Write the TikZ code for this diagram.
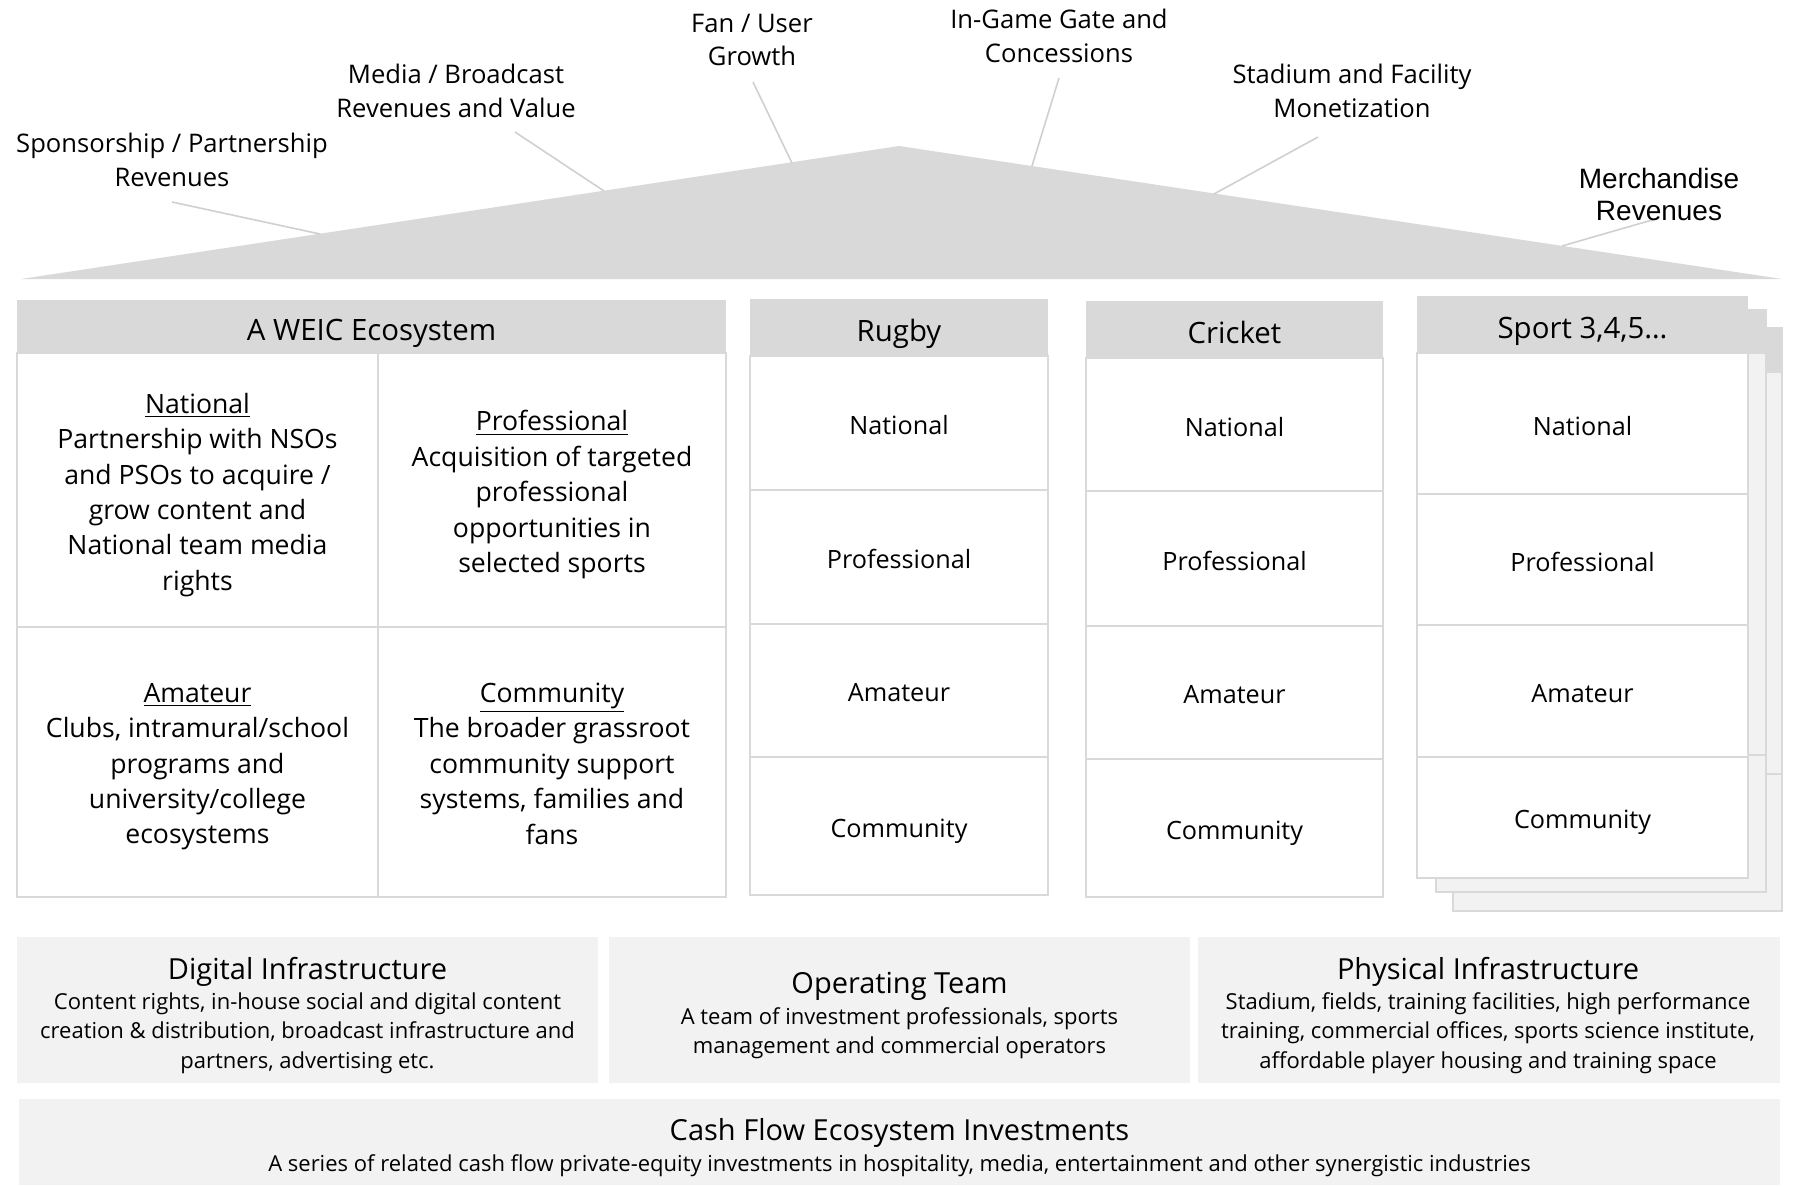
\documentclass[tikz,border=0pt]{standalone}
\usepackage{fontspec}
\setmainfont{Open Sans}
\newfontfamily\arialfont{Liberation Sans}
\usetikzlibrary{fit}
\definecolor{hdrgray}{HTML}{D9D9D9}
\definecolor{panelgray}{HTML}{F2F2F2}
\definecolor{leadgray}{HTML}{D0D0D0}
\definecolor{edgegray}{HTML}{D9D9D9}

\begin{document}
\begin{tikzpicture}[x=0.5pt,y=-0.5pt,
  toplabel/.style={align=center, inner sep=0pt, font=\fontsize{12.8}{16.75}\selectfont},
  leader/.style={draw=leadgray, line width=0.8pt},
  hdr/.style={fill=hdrgray, inner sep=0pt, outer sep=0pt},
  hdrtext/.style={inner sep=0pt, text depth=0pt, yshift=-1.6pt, font=\fontsize{14.7}{17}\selectfont},
  wcell/.style={fill=white, draw=edgegray, line width=0.8pt, inner sep=0pt, outer sep=0pt},
  wtext/.style={inner sep=0pt, text depth=0pt, yshift=-0.8pt, align=center, font=\fontsize{13.3}{17.7}\selectfont},
  scell/.style={fill=white, draw=edgegray, line width=1.1pt, inner sep=0pt, outer sep=0pt},
  stext/.style={inner sep=0pt, text depth=0pt, yshift=-1.1pt, font=\fontsize{12.6}{15}\selectfont},
  sheet/.style={draw=edgegray, line width=1.1pt},
  panel/.style={fill=panelgray, inner sep=0pt, outer sep=0pt},
  btitle/.style={inner sep=0pt, font=\fontsize{14.5}{17}\selectfont},
  bsub/.style={inner sep=0pt, align=center, font=\fontsize{11.0}{14.7}\selectfont}
]
\useasboundingbox (0,0) rectangle (1793,1185);
\fill[white] (0,0) rectangle (1793,1185);

% ---------- roof ----------
\fill[hdrgray] (21,279) -- (899,146) -- (1782,279) -- cycle;

% leader line end points
\coordinate (spA) at (172,202);  \coordinate (spB) at (320,234);
\coordinate (mdA) at (515,132);  \coordinate (mdB) at (604,191);
\coordinate (fnA) at (753,82);   \coordinate (fnB) at (792,163);
\coordinate (igA) at (1059,78);  \coordinate (igB) at (1032,166);
\coordinate (stA) at (1318,137); \coordinate (stB) at (1214,194);
\coordinate (mcA) at (1659,218); \coordinate (mcB) at (1562,246);

\draw[leader] (spA) -- (spB);
\draw[leader] (mdA) -- (mdB);
\draw[leader] (fnA) -- (fnB);
\draw[leader] (igA) -- (igB);
\draw[leader] (stA) -- (stB);
\draw[leader] (mcA) -- (mcB);

% revenue labels
\node[toplabel] (lblSpons) at (172,160) {Sponsorship / Partnership\\Revenues};
\node[toplabel] (lblMedia) at (456,91) {Media / Broadcast\\Revenues and Value};
\node[toplabel] (lblFan) at (752,40) {Fan / User\\Growth};
\node[toplabel] (lblGate) at (1059,36) {In-Game Gate and\\Concessions};
\node[toplabel] (lblStad) at (1352,91) {Stadium and Facility\\Monetization};
\node[toplabel, font=\arialfont\fontsize{14}{16}\selectfont] (lblMerch) at (1659,194) {Merchandise\\Revenues};

% ---------- WEIC ecosystem ----------
\node[hdr, fit={(17,300)(726,353)}] (weicH) {};
\node[wcell, fit={(17,353)(378,627)}] (weicNat) {};
\node[wcell, fit={(378,353)(726,627)}] (weicPro) {};
\node[wcell, fit={(17,627)(378,897)}] (weicAma) {};
\node[wcell, fit={(378,627)(726,897)}] (weicCom) {};
\node[hdrtext] (weicHt) at (weicH) {A WEIC Ecosystem};
\node[wtext] (weicNatT) at (weicNat)
  {\underline{National}\\Partnership with NSOs\\and PSOs to acquire /\\grow content and\\National team media\\rights};
\node[wtext] (weicProT) at (weicPro)
  {\underline{Professional}\\Acquisition of targeted\\professional\\opportunities in\\selected sports};
\node[wtext] (weicAmaT) at (weicAma)
  {\underline{Amateur}\\Clubs, intramural/school\\programs and\\university/college\\ecosystems};
\node[wtext] (weicComT) at (weicCom)
  {\underline{Community}\\The broader grassroot\\community support\\systems, families and\\fans};

% ---------- Rugby ----------
\node[hdr, fit={(750,299)(1048,356)}] (rugH) {};
\node[scell, fit={(750,356)(1048,490)}] (rugN) {};
\node[scell, fit={(750,490)(1048,624)}] (rugP) {};
\node[scell, fit={(750,624)(1048,757)}] (rugA) {};
\node[scell, fit={(750,757)(1048,895)}] (rugC) {};
\node[hdrtext] (rugHt) at (rugH) {Rugby};
\node[stext] (rugNt) at (rugN) {National};
\node[stext] (rugPt) at (rugP) {Professional};
\node[stext] (rugAt) at (rugA) {Amateur};
\node[stext] (rugCt) at (rugC) {Community};

% ---------- Cricket ----------
\node[hdr, fit={(1086,301)(1383,358)}] (crkH) {};
\node[scell, fit={(1086,358)(1383,491)}] (crkN) {};
\node[scell, fit={(1086,491)(1383,626)}] (crkP) {};
\node[scell, fit={(1086,626)(1383,759)}] (crkA) {};
\node[scell, fit={(1086,759)(1383,897)}] (crkC) {};
\node[hdrtext] (crkHt) at (crkH) {Cricket};
\node[stext] (crkNt) at (crkN) {National};
\node[stext] (crkPt) at (crkP) {Professional};
\node[stext] (crkAt) at (crkA) {Amateur};
\node[stext] (crkCt) at (crkC) {Community};

% ---------- further sports: stacked sheets ----------
\fill[panelgray] (1453,328) rectangle (1782,911);
\fill[hdrgray] (1453,328) rectangle (1782,373);
\draw[sheet] (1453,774) -- (1782,774);
\draw[sheet] (1453,328) rectangle (1782,911);

\fill[panelgray] (1436,310) rectangle (1766,892);
\fill[hdrgray] (1436,310) rectangle (1766,354);
\draw[sheet] (1436,755) -- (1766,755);
\draw[sheet] (1436,310) rectangle (1766,892);

\node[hdr, fit={(1417,296)(1748,353)}] (spH) {};
\node[scell, fit={(1417,353)(1748,494)}] (spN) {};
\node[scell, fit={(1417,494)(1748,625)}] (spP) {};
\node[scell, fit={(1417,625)(1748,757)}] (spA) {};
\node[scell, fit={(1417,757)(1748,878)}] (spC) {};
\node[hdrtext] (spHt) at (spH) {Sport 3,4,5\ldots};
\node[stext] (spNt) at (spN) {National};
\node[stext] (spPt) at (spP) {Professional};
\node[stext] (spAt) at (spA) {Amateur};
\node[stext] (spCt) at (spC) {Community};

% ---------- foundations ----------
\node[panel, fit={(17,937)(598,1083)}] (digBox) {};
\node[btitle] (digT) at (307.5,972) {Digital Infrastructure};
\node[bsub] (digS) at (307.5,1033)
  {Content rights, in-house social and digital content\\creation \& distribution, broadcast infrastructure and\\partners, advertising etc.};

\node[panel, fit={(609,937)(1190,1083)}] (opsBox) {};
\node[btitle] (opsT) at (899.5,986) {Operating Team};
\node[bsub] (opsS) at (899.5,1033)
  {A team of investment professionals, sports\\management and commercial operators};

\node[panel, fit={(1198,937)(1780,1083)}] (physBox) {};
\node[btitle] (physT) at (1488,972) {Physical Infrastructure};
\node[bsub] (physS) at (1488,1033)
  {Stadium, fields, training facilities, high performance\\training, commercial offices, sports science institute,\\affordable player housing and training space};

\node[panel, fit={(19,1099)(1780,1185)}] (cashBox) {};
\node[btitle] (cashT) at (899.5,1133) {Cash Flow Ecosystem Investments};
\node[bsub] (cashS) at (899.5,1166)
  {A series of related cash flow private-equity investments in hospitality, media, entertainment and other synergistic industries};

\end{tikzpicture}
\end{document}
